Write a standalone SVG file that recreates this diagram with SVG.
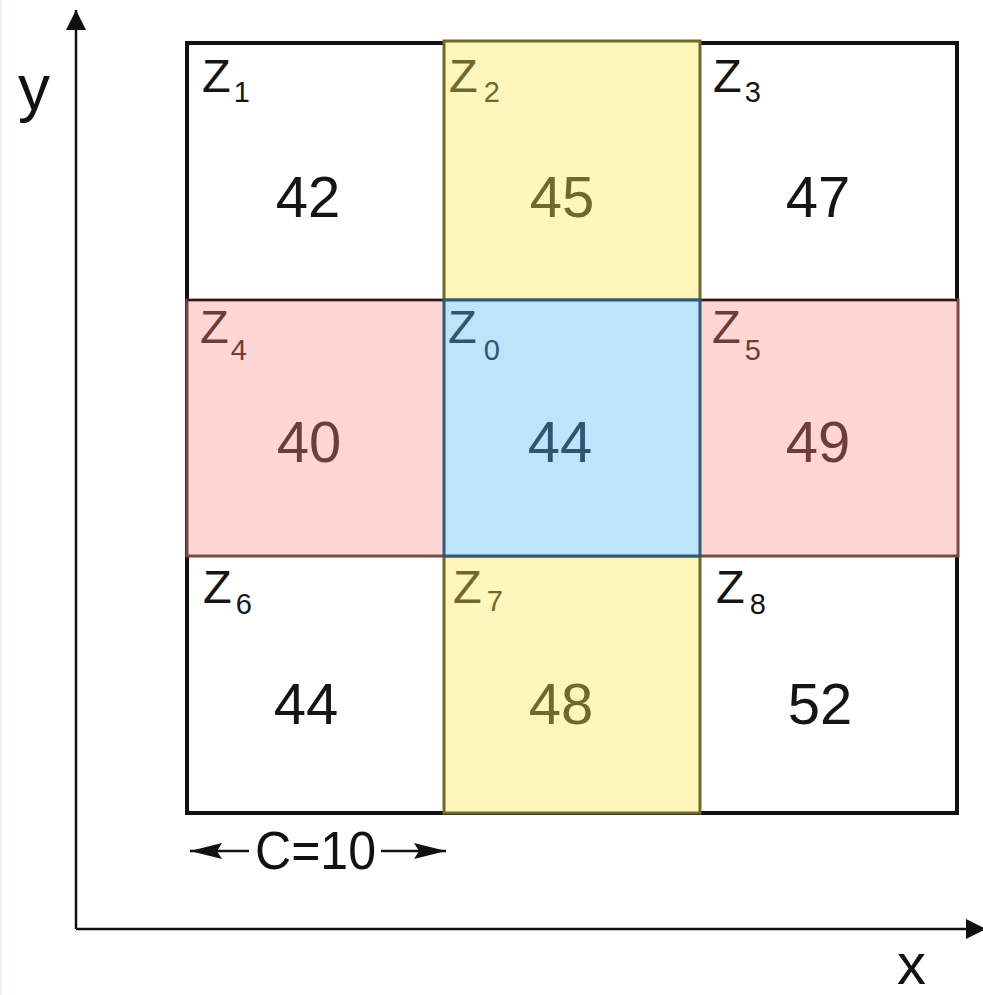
<svg xmlns="http://www.w3.org/2000/svg" width="983" height="995" viewBox="0 0 983 995">
<style>
text{font-family:"Liberation Sans",Arial,sans-serif}
.num{font-size:58px;text-anchor:middle}
.z{font-size:47px}
.sub{font-size:29px}
.k{fill:#151515}
.yt{fill:#6e6a2c}
.rt{fill:#6e3c3a}
.bt{fill:#2e5671}
.axis{stroke:#111;stroke-width:2.5;fill:none}
</style>
<defs>
<marker id="ah" viewBox="0 0 20 20" refX="20" refY="10" markerWidth="20" markerHeight="20" markerUnits="userSpaceOnUse" orient="auto">
<path d="M0,0 L20,10 L0,20 Z" fill="#111"/>
</marker>
<marker id="dh" viewBox="0 0 32 18" refX="32" refY="9" markerWidth="32" markerHeight="18" markerUnits="userSpaceOnUse" orient="auto">
<path d="M0,1 L32,9 L0,17 L5,9 Z" fill="#111"/>
</marker>
</defs>
<rect x="0" y="0" width="983" height="995" fill="#fff"/>
<rect x="0" y="0" width="2" height="995" fill="#e8f3e8"/>

<g id="grid">
<rect x="187" y="43" width="770" height="770" fill="#fff" stroke="#111" stroke-width="4"/>
</g>
<g id="col-yellow">
<rect x="444" y="41" width="256" height="772" fill="#fff6bc" stroke="#6f6a2a" stroke-width="3"/>
</g>
<g id="row-red">
<rect x="187" y="300" width="771" height="256" fill="#ffd6d3" stroke="#7a4846" stroke-width="3"/>
<path d="M187,300 H444 M700,300 H957" stroke="#111" stroke-width="1.5"/>
</g>
<g id="center-blue">
<rect x="444" y="300" width="256" height="256" fill="#bde4fb" stroke="#2c5a78" stroke-width="3"/>
</g>

<g id="Z1"><text class="z k" x="202" y="92">Z<tspan class="sub" dx="3" dy="10">1</tspan></text><text class="num k" x="308" y="217">42</text></g>
<g id="Z2"><text class="z yt" x="449" y="92">Z<tspan class="sub" dx="6" dy="10">2</tspan></text><text class="num yt" x="562" y="217">45</text></g>
<g id="Z3"><text class="z k" x="713" y="92">Z<tspan class="sub" dx="3" dy="10">3</tspan></text><text class="num k" x="818" y="217">47</text></g>
<g id="Z4"><text class="z rt" x="200" y="343">Z<tspan class="sub" dx="2" dy="17">4</tspan></text><text class="num rt" x="309" y="462">40</text></g>
<g id="Z0"><text class="z bt" x="448" y="343">Z<tspan class="sub" dx="7" dy="17">0</tspan></text><text class="num bt" x="560" y="462">44</text></g>
<g id="Z5"><text class="z rt" x="712" y="343">Z<tspan class="sub" dx="4" dy="17">5</tspan></text><text class="num rt" x="818" y="462">49</text></g>
<g id="Z6"><text class="z k" x="203" y="603">Z<tspan class="sub" dx="4" dy="11">6</tspan></text><text class="num k" x="306" y="724">44</text></g>
<g id="Z7"><text class="z yt" x="453" y="603">Z<tspan class="sub" dx="5" dy="8">7</tspan></text><text class="num yt" x="561" y="724">48</text></g>
<g id="Z8"><text class="z k" x="716" y="603">Z<tspan class="sub" dx="5" dy="11">8</tspan></text><text class="num k" x="820" y="724">52</text></g>

<g id="connectors">
<path class="axis" d="M76,929 L76,10" marker-end="url(#ah)"/>
<path class="axis" d="M76,929 L986,929" marker-end="url(#ah)"/>
<path stroke="#111" stroke-width="2.5" fill="none" d="M249,851 L190,851" marker-end="url(#dh)"/>
<path stroke="#111" stroke-width="2.5" fill="none" d="M381,851 L446,851" marker-end="url(#dh)"/>
</g>
<g id="labels">
<text x="18" y="110" font-size="64" fill="#111">y</text>
<text x="897" y="984" font-size="58" fill="#111">x</text>
<text x="255" y="869" font-size="54" fill="#111" textLength="121" lengthAdjust="spacingAndGlyphs">C=10</text>
</g>
</svg>
